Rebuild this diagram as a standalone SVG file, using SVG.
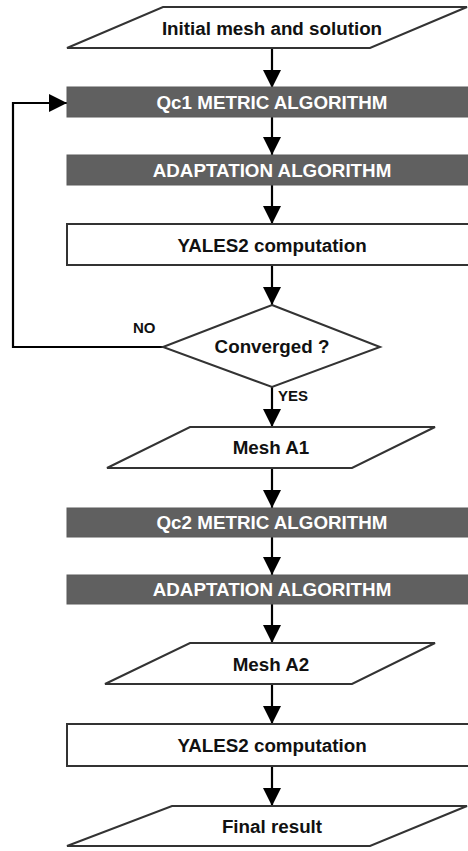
<svg xmlns="http://www.w3.org/2000/svg" width="468" height="851" viewBox="0 0 468 851">
<defs>
<style>
.io{fill:#fff;stroke:#333;stroke-width:2}
.box{fill:#fff;stroke:#333;stroke-width:2}
.bar{fill:#606060;stroke:#5a5a5a;stroke-width:1}
.t{font-family:"Liberation Sans",Arial,sans-serif;font-weight:bold;font-size:18.8px;fill:#111;text-anchor:middle}
.tw{font-family:"Liberation Sans",Arial,sans-serif;font-weight:bold;font-size:18.8px;fill:#fff;text-anchor:middle}
.lbl{font-family:"Liberation Sans",Arial,sans-serif;font-weight:bold;font-size:15px;fill:#111}
.c{fill:none;stroke:#000;stroke-width:2.2;marker-end:url(#ah)}
</style>
<marker id="ah" markerUnits="userSpaceOnUse" markerWidth="18" markerHeight="18" refX="18" refY="9" orient="auto">
<path d="M0,0 L18,9 L0,18 z" fill="#000"/>
</marker>
</defs>
<g id="connectors">
<path class="c" d="M272,48 V88"/>
<path class="c" d="M272,117 V155"/>
<path class="c" d="M272,185 V224"/>
<path class="c" d="M272,265 V305"/>
<path class="c" d="M163,347 H13 V103 H67"/>
<path class="c" d="M272,387 V427"/>
<path class="c" d="M272,468 V508"/>
<path class="c" d="M272,537 V575"/>
<path class="c" d="M272,604 V643"/>
<path class="c" d="M272,684 V724"/>
<path class="c" d="M272,766 V806"/>
<text class="lbl" x="133" y="333">NO</text>
<text class="lbl" x="278" y="401">YES</text>
</g>
<g id="initial">
<polygon class="io" points="163,7 467,7 370,48 67,48"/>
<text class="t" x="272" y="34.5">Initial mesh and solution</text>
</g>
<g id="qc1">
<rect class="bar" x="67" y="87" width="420" height="30"/>
<text class="tw" x="272" y="109">Qc1 METRIC ALGORITHM</text>
</g>
<g id="adapt1">
<rect class="bar" x="67" y="155" width="420" height="30"/>
<text class="tw" x="272" y="176.5">ADAPTATION ALGORITHM</text>
</g>
<g id="yales1">
<rect class="box" x="67" y="224" width="420" height="41"/>
<text class="t" x="272" y="251.5">YALES2 computation</text>
</g>
<g id="converged">
<polygon class="box" points="272,305 380,347 272,387 163,347"/>
<text class="t" x="272" y="353">Converged ?</text>
</g>
<g id="meshA1">
<polygon class="io" points="190,427 435,427 352,468 107,468"/>
<text class="t" x="271" y="454">Mesh A1</text>
</g>
<g id="qc2">
<rect class="bar" x="67" y="508" width="420" height="29"/>
<text class="tw" x="272" y="529">Qc2 METRIC ALGORITHM</text>
</g>
<g id="adapt2">
<rect class="bar" x="67" y="575" width="420" height="29"/>
<text class="tw" x="272" y="596">ADAPTATION ALGORITHM</text>
</g>
<g id="meshA2">
<polygon class="io" points="190,643 435,643 352,684 105,684"/>
<text class="t" x="271" y="671">Mesh A2</text>
</g>
<g id="yales2">
<rect class="box" x="67" y="724" width="420" height="42"/>
<text class="t" x="272" y="752">YALES2 computation</text>
</g>
<g id="final">
<polygon class="io" points="172,806 467,806 370,846 67,846"/>
<text class="t" x="272" y="833">Final result</text>
</g>
</svg>
